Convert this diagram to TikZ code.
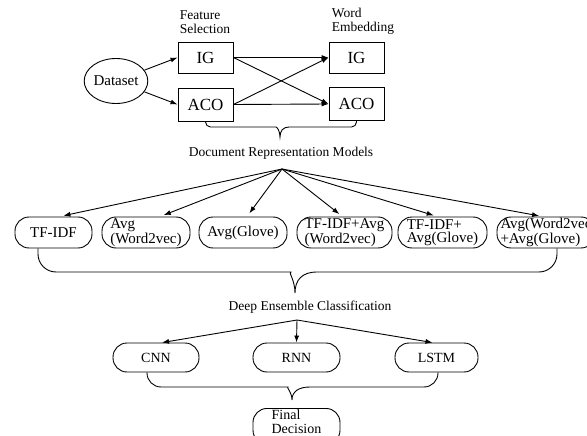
\documentclass[tikz,border=0pt]{standalone}
\usepackage{fontspec}
\setmainfont{Liberation Serif}
\usetikzlibrary{arrows.meta,shapes.geometric}

\begin{document}
\begin{tikzpicture}[x=1pt,y=-1pt,line width=0.9pt,
  box/.style={draw,minimum width=55pt,minimum height=31pt,inner sep=1pt,
              font=\fontsize{17}{17}\selectfont},
  rnd/.style={draw,rounded corners=14pt,inner sep=1pt,font=\fontsize{14}{13}\selectfont},
  pill/.style={rnd,minimum height=31pt,align=left},
  model/.style={pill,font=\fontsize{15}{13.5}\selectfont},
  lbl/.style={align=left,inner sep=0pt,font=\fontsize{13.5}{14}\selectfont},
  arr/.style={-{Latex[length=7pt,width=5pt]}}]
  \useasboundingbox (0,0) rectangle (587,436);

  % feature selection and word embedding
  \node[ellipse,draw,minimum width=58pt,minimum height=45pt,inner sep=0pt,
        font=\fontsize{15}{15}\selectfont] (dataset) at (116,81) {Dataset};
  \node[box] (fsig) at (205.5,57.5) {IG};
  \node[box,minimum height=33pt] (fsaco) at (205.5,104.5) {ACO};
  \node[box] (weig) at (356.5,57.5) {IG};
  \node[box,minimum height=33pt] (weaco) at (356.5,104) {ACO};
  \node[lbl] (fslbl) at (205,22) {Feature\\Selection};
  \node[lbl] (welbl) at (363,21) {Word\\Embedding};

  \draw[arr] (dataset) -- (fsig.west);
  \draw[arr] (dataset) -- (fsaco.west);
  \draw[arr] (fsig.east) -- (weig.west);
  \draw[arr] (fsig.east) -- (weaco.west);
  \draw[arr] (fsaco.east) -- (weig.west);
  \draw[arr] (fsaco.east) -- (weaco.west);

  \draw[rounded corners=5pt] (fsaco.south) |- (271,127) [sharp corners]
    .. controls (277,127) and (280,131) .. (280,137)
    .. controls (280,131) and (283,127) .. (289,127) [rounded corners=5pt] -| (weaco.south);
  \node[lbl] (drmlbl) at (281,153) {Document Representation Models};

  % document representation models
  \coordinate (drm) at (282,169);
  \node[model,minimum width=77pt] (tfidf) at (53.5,232.5) {TF-IDF};
  \node[model,minimum width=88pt] (avgwv) at (146,232.5) {Avg\\(Word2vec)};
  \node[model,minimum width=88pt] (avggl) at (243,232.5) {Avg(Glove)};
  \node[model,minimum width=95pt] (tfwv) at (344.5,232.5) {TF-IDF+Avg\\(Word2vec)};
  \node[model,minimum width=89pt] (tfgl) at (442.5,232.5) {TF-IDF+\\Avg(Glove)};
  \node[model,minimum width=98pt] (wvgl) at (546,232.5) {Avg(Word2vec\\+Avg(Glove)};
  \foreach \n/\dx in {tfidf/6,avgwv/14,avggl/4,tfwv/-2,tfgl/-5,wvgl/-3}
    \draw[arr,shorten >=4pt] (drm) -- ([xshift=\dx pt]\n.north);

  \draw[rounded corners=18pt] ([xshift=-15.5pt]tfidf.south) |- (273,272) [sharp corners]
    .. controls (288,272) and (295,280) .. (295,293)
    .. controls (295,280) and (302,272) .. (317,272)
    [rounded corners=18pt] -| ([xshift=11pt]wvgl.south);
  \node[lbl] (declbl) at (310,307) {Deep Ensemble Classification};

  % deep ensemble classification
  \coordinate (dec) at (297,320);
  \node[pill,minimum width=86pt,minimum height=29pt] (cnn) at (156,357.5) {CNN};
  \node[pill,minimum width=87pt,minimum height=29pt] (rnn) at (296.5,357.5) {RNN};
  \node[pill,minimum width=83pt,minimum height=29pt] (lstm) at (436.5,357.5) {LSTM};
  \draw[arr] (dec) -- ([xshift=6pt]cnn.north);
  \draw[arr] (dec) -- (rnn.north);
  \draw[arr] (dec) -- ([xshift=-4pt]lstm.north);

  \draw[rounded corners=14pt] ([xshift=-9pt]cnn.south) |- (274,387) [sharp corners]
    .. controls (286,387) and (292,392) .. (292,400)
    .. controls (292,392) and (298,387) .. (310,387)
    [rounded corners=14pt] -| ([xshift=1.5pt]lstm.south);
  \node[rnd,minimum width=87pt,anchor=north,text depth=10pt,
        font=\fontsize{14}{14}\selectfont] (final) at (296.5,408)
    {\begin{tabular}[b]{@{}l@{}}Final\\Decision\end{tabular}};
\end{tikzpicture}
\end{document}
